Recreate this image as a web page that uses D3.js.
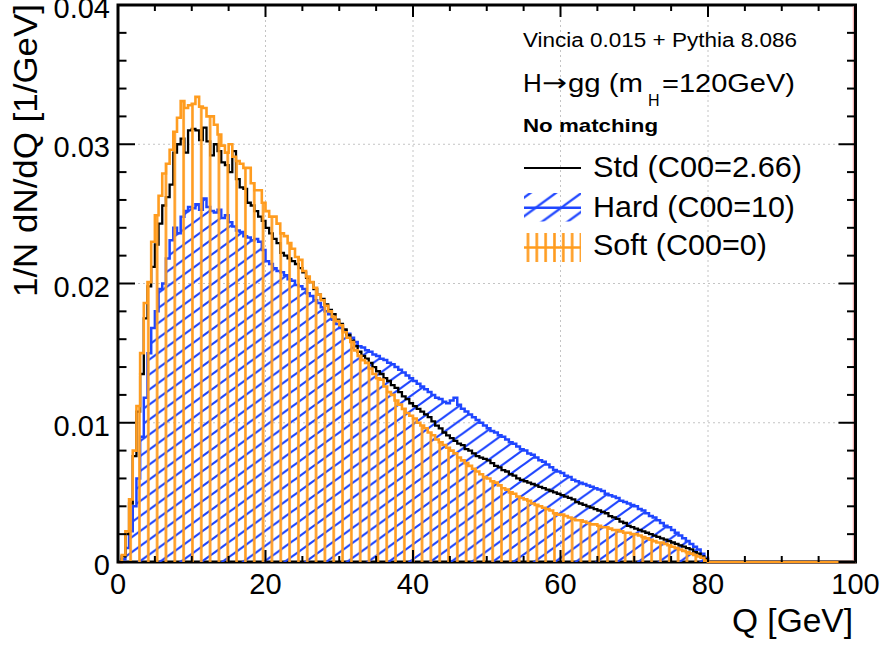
<!DOCTYPE html>
<html><head><meta charset="utf-8">
<script src="https://cdn.jsdelivr.net/npm/d3@7"></script>
<style>
body{margin:0;background:#fff}
svg{display:block}
text{font-family:"Liberation Sans",Arial,Helvetica,sans-serif;fill:#000}
</style>
</head><body>
<svg id="chart" width="884" height="645"></svg>
<script>
// ---------- data ----------
const binWidth = 0.5;               // GeV per bin, bins start at Q = 0
const xDomain = [0, 100];
const yDomain = [0, 0.04];
const xTickValues = [0, 20, 40, 60, 80, 100];
const xTickLabels = ["0", "20", "40", "60", "80", "100"];
const yTickValues = [0, 0.01, 0.02, 0.03, 0.04];
const yTickLabels = ["0", "0.01", "0.02", "0.03", "0.04"];
const xTitle = "Q [GeV]";
const yTitle = "1/N dN/dQ [1/GeV]";
const seriesNames = ["Std (C00=2.66)", "Hard (C00=10)", "Soft (C00=0)"];
const infoLines = ["Vincia 0.015 + Pythia 8.086", "No matching"];
const processParts = ["H", "\u2192", "gg (m", "H", "=120GeV)"];

// Std (C00=2.66) — black outline
const stdValues = [
0.0000,0.0004,0.0020,0.0042,0.0076,0.0108,0.0135,0.0175,0.0198,0.0212,
0.0228,0.0243,0.0256,0.0262,0.0271,0.0294,0.0300,0.0304,0.0294,0.0310,
0.0311,0.0310,0.0303,0.0312,0.0302,0.0292,0.0300,0.0295,0.0287,0.0285,
0.0280,0.0295,0.0275,0.0269,0.0268,0.0258,0.0256,0.0252,0.0248,0.0245,
0.0240,0.0236,0.0232,0.0229,0.0222,0.0220,0.0218,0.0216,0.0214,0.0211,
0.0208,0.0204,0.0201,0.0196,0.0192,0.0189,0.0185,0.0181,0.0178,0.0174,
0.0171,0.0167,0.0163,0.0159,0.0155,0.0151,0.0148,0.0146,0.0143,0.0140,
0.0137,0.0135,0.0132,0.0130,0.0127,0.0125,0.0122,0.0119,0.0117,0.0114,
0.0112,0.0110,0.0108,0.0106,0.0104,0.0101,0.0098,0.0096,0.0093,0.0091,
0.0089,0.0087,0.0085,0.0084,0.0081,0.0080,0.0078,0.0076,0.0075,0.0074,
0.0073,0.0071,0.0069,0.0068,0.0066,0.0065,0.0063,0.0062,0.0060,0.0059,
0.0058,0.0057,0.0056,0.0055,0.0054,0.0053,0.0052,0.0051,0.0050,0.0049,
0.0048,0.0047,0.0046,0.0045,0.0043,0.0042,0.0041,0.0040,0.0039,0.0038,
0.0037,0.0036,0.0035,0.0033,0.0032,0.0031,0.0029,0.0028,0.0026,0.0025,
0.0024,0.0023,0.0022,0.0021,0.0020,0.0019,0.0018,0.0017,0.0016,0.0015,
0.0014,0.0013,0.0012,0.0011,0.0010,0.0009,0.0007,0.0006,0.0004,0.0002];

// Hard (C00=10) — blue outline, diagonal hatch
const hardValues = [
0.0000,0.0002,0.0010,0.0022,0.0040,0.0060,0.0090,0.0118,0.0150,0.0168,
0.0180,0.0196,0.0200,0.0218,0.0231,0.0240,0.0236,0.0248,0.0252,0.0255,
0.0254,0.0257,0.0253,0.0261,0.0255,0.0252,0.0251,0.0253,0.0247,0.0249,
0.0244,0.0241,0.0238,0.0237,0.0234,0.0233,0.0231,0.0232,0.0230,0.0224,
0.0216,0.0214,0.0211,0.0209,0.0208,0.0206,0.0203,0.0202,0.0199,0.0198,
0.0196,0.0193,0.0191,0.0188,0.0186,0.0183,0.0180,0.0178,0.0174,0.0171,
0.0168,0.0166,0.0164,0.0161,0.0158,0.0155,0.0154,0.0152,0.0151,0.0149,
0.0148,0.0146,0.0145,0.0143,0.0142,0.0140,0.0138,0.0136,0.0134,0.0132,
0.0130,0.0128,0.0126,0.0124,0.0122,0.0120,0.0118,0.0117,0.0115,0.0114,
0.0116,0.0118,0.0113,0.0110,0.0108,0.0106,0.0104,0.0102,0.0100,0.0098,
0.0096,0.0094,0.0093,0.0091,0.0090,0.0088,0.0086,0.0085,0.0083,0.0081,
0.0080,0.0078,0.0077,0.0075,0.0073,0.0072,0.0070,0.0068,0.0066,0.0065,
0.0064,0.0062,0.0061,0.0059,0.0058,0.0057,0.0056,0.0055,0.0054,0.0053,
0.0052,0.0051,0.0049,0.0048,0.0047,0.0046,0.0044,0.0043,0.0042,0.0041,
0.0040,0.0038,0.0037,0.0035,0.0033,0.0032,0.0030,0.0028,0.0026,0.0025,
0.0023,0.0021,0.0019,0.0017,0.0015,0.0013,0.0011,0.0009,0.0006,0.0003];

// Soft (C00=0) — orange outline, vertical hatch
const softValues = [
0.0000,0.0005,0.0022,0.0045,0.0080,0.0112,0.0150,0.0186,0.0201,0.0230,
0.0249,0.0263,0.0279,0.0286,0.0296,0.0309,0.0319,0.0331,0.0326,0.0328,
0.0329,0.0334,0.0327,0.0326,0.0320,0.0320,0.0314,0.0307,0.0299,0.0294,
0.0300,0.0291,0.0288,0.0286,0.0283,0.0283,0.0272,0.0267,0.0267,0.0258,
0.0252,0.0248,0.0248,0.0243,0.0236,0.0234,0.0229,0.0225,0.0219,0.0217,
0.0209,0.0205,0.0201,0.0197,0.0192,0.0188,0.0184,0.0180,0.0176,0.0173,
0.0170,0.0165,0.0161,0.0158,0.0152,0.0148,0.0145,0.0143,0.0139,0.0135,
0.0132,0.0131,0.0126,0.0122,0.0120,0.0116,0.0113,0.0110,0.0107,0.0105,
0.0103,0.0100,0.0098,0.0096,0.0093,0.0091,0.0088,0.0086,0.0084,0.0082,
0.0080,0.0078,0.0075,0.0073,0.0071,0.0069,0.0067,0.0065,0.0063,0.0061,
0.0060,0.0058,0.0057,0.0055,0.0053,0.0052,0.0050,0.0049,0.0047,0.0046,
0.0045,0.0044,0.0042,0.0041,0.0040,0.0039,0.0038,0.0037,0.0035,0.0034,
0.0034,0.0033,0.0032,0.0031,0.0030,0.0030,0.0029,0.0028,0.0027,0.0027,
0.0026,0.0025,0.0025,0.0024,0.0023,0.0023,0.0022,0.0021,0.0021,0.0020,
0.0020,0.0019,0.0018,0.0017,0.0016,0.0015,0.0014,0.0014,0.0013,0.0012,
0.0011,0.0010,0.0009,0.0008,0.0007,0.0006,0.0005,0.0004,0.0003,0.0001];

// ---------- style ----------
const BLUE = "#1f46ff", ORANGE = "#ff9c1f", BLACK = "#000";
const frame = {left: 118, right: 855.5, top: 5, bottom: 562};

const svg = d3.select("#chart");
const x = d3.scaleLinear().domain(xDomain).range([frame.left, frame.right]);
const y = d3.scaleLinear().domain(yDomain).range([frame.bottom, frame.top]);

// ---------- patterns ----------
const defs = svg.append("defs");
function diagPattern(id, w, h, color, sw) {
  const p = defs.append("pattern").attr("id", id)
    .attr("patternUnits", "userSpaceOnUse").attr("width", w).attr("height", h)
    .attr("x", 3).attr("y", 0);
  [-1, 0, 1].forEach(n => {
    p.append("line")
      .attr("x1", -w * 0.5).attr("y1", h * 1.5 + n * h)
      .attr("x2", w * 1.5).attr("y2", -h * 0.5 + n * h)
      .attr("stroke", color).attr("stroke-width", sw);
  });
}
diagPattern("hatchBlue", 20.8, 15, BLUE, 2.2);
diagPattern("hatchBlueLeg", 25.5, 18.7, BLUE, 2.2);
const vp = defs.append("pattern").attr("id", "hatchOrange")
  .attr("patternUnits", "userSpaceOnUse").attr("width", 8.83).attr("height", 20)
  .attr("x", 148.3 - 4.415).attr("y", 0);
vp.append("line").attr("x1", 4.415).attr("x2", 4.415).attr("y1", -1).attr("y2", 21)
  .attr("stroke", ORANGE).attr("stroke-width", 2.6);

// ---------- grid ----------
const grid = svg.append("g").attr("stroke", "#c4c4c4").attr("stroke-width", 1)
  .attr("stroke-dasharray", "2,3");
xTickValues.filter(v => v > xDomain[0] && v < xDomain[1]).forEach(v => {
  grid.append("line").attr("x1", x(v)).attr("x2", x(v)).attr("y1", frame.top).attr("y2", frame.bottom);
});
yTickValues.filter(v => v > yDomain[0] && v < yDomain[1]).forEach(v => {
  grid.append("line").attr("y1", y(v)).attr("y2", y(v)).attr("x1", frame.left).attr("x2", frame.right);
});

// ---------- frame (under the histograms) ----------
svg.append("rect").attr("x", frame.left).attr("y", frame.top)
  .attr("width", frame.right - frame.left).attr("height", frame.bottom - frame.top)
  .attr("fill", "none").attr("stroke", "#000").attr("stroke-width", 3);
svg.append("line").attr("x1", frame.right - 2.2).attr("x2", frame.right - 2.2)
  .attr("y1", frame.top + 1.5).attr("y2", frame.bottom - 1.5)
  .attr("stroke", "#f4a0a0").attr("stroke-width", 1);

// ---------- histograms ----------
function stepPoints(vals) {
  const pts = [[xDomain[0], 0]];
  vals.forEach((v, i) => { pts.push([i * binWidth, v], [(i + 1) * binWidth, v]); });
  pts.push([vals.length * binWidth, 0], [xDomain[1], 0]);
  return pts;
}
const line = d3.line().x(d => x(d[0])).y(d => y(d[1]));
const area = d3.area().x(d => x(d[0])).y0(y(0)).y1(d => y(d[1]));

const hard = stepPoints(hardValues), std = stepPoints(stdValues), soft = stepPoints(softValues);
svg.append("path").attr("d", area(hard)).attr("fill", "url(#hatchBlue)");
svg.append("path").attr("d", line(hard)).attr("fill", "none").attr("stroke", BLUE)
  .attr("stroke-width", 2.5).attr("stroke-linejoin", "miter");
svg.append("path").attr("d", line(std)).attr("fill", "none").attr("stroke", BLACK)
  .attr("stroke-width", 2.3);
svg.append("path").attr("d", area(soft)).attr("fill", "url(#hatchOrange)");
svg.append("path").attr("d", line(soft)).attr("fill", "none").attr("stroke", ORANGE)
  .attr("stroke-width", 2.6);

// ---------- ticks ----------
const tk = svg.append("g").attr("stroke", "#000").attr("stroke-width", 2);
const xMinor = x.ticks(20), yMinor = y.ticks(20);
xMinor.forEach(v => {
  const major = xTickValues.includes(v);
  const L = major ? 12 : 6;
  tk.append("line").attr("x1", x(v)).attr("x2", x(v)).attr("y1", frame.bottom).attr("y2", frame.bottom - L);
  tk.append("line").attr("x1", x(v)).attr("x2", x(v)).attr("y1", frame.top).attr("y2", frame.top + L);
});
yMinor.forEach(v => {
  const major = yTickValues.some(t => Math.abs(t - v) < 1e-9);
  const L = major ? 17 : 8.5;
  tk.append("line").attr("y1", y(v)).attr("y2", y(v)).attr("x1", frame.left).attr("x2", frame.left + L);
  tk.append("line").attr("y1", y(v)).attr("y2", y(v)).attr("x1", frame.right).attr("x2", frame.right - L);
});

// ---------- tick labels ----------
xTickValues.forEach((v, i) => {
  svg.append("text").attr("x", x(v)).attr("y", 594).attr("text-anchor", "middle")
    .attr("font-size", 29).text(xTickLabels[i]);
});
yTickValues.forEach((v, i) => {
  svg.append("text").attr("x", 110).attr("y", y(v) + 13).attr("text-anchor", "end")
    .attr("font-size", 29).text(yTickLabels[i]);
});

// ---------- axis titles ----------
svg.append("text").attr("x", 853).attr("y", 632).attr("text-anchor", "end")
  .attr("font-size", 33.5).text(xTitle);
svg.append("text").attr("transform", "translate(37,297) rotate(-90)")
  .attr("x", 0).attr("y", 0).attr("font-size", 33.5)
  .attr("textLength", 293).attr("lengthAdjust", "spacingAndGlyphs").text(yTitle);

// ---------- info text ----------
svg.append("text").attr("x", 523).attr("y", 47).attr("font-size", 19.5)
  .attr("textLength", 274).attr("lengthAdjust", "spacingAndGlyphs").text(infoLines[0]);
svg.append("text").attr("x", 523).attr("y", 92).attr("font-size", 26)
  .text(processParts[0]);
svg.append("text").attr("x", 542).attr("y", 91).attr("font-size", 24)
  .style("font-family", "'DejaVu Sans',sans-serif")
  .attr("textLength", 25).attr("lengthAdjust", "spacingAndGlyphs").text(processParts[1]);
svg.append("text").attr("x", 568).attr("y", 92).attr("font-size", 26)
  .attr("textLength", 75).attr("lengthAdjust", "spacingAndGlyphs").text(processParts[2]);
svg.append("text").attr("x", 648).attr("y", 106).attr("font-size", 16)
  .text(processParts[3]);
svg.append("text").attr("x", 662).attr("y", 92).attr("font-size", 26)
  .attr("textLength", 133).attr("lengthAdjust", "spacingAndGlyphs").text(processParts[4]);
svg.append("text").attr("x", 523).attr("y", 132).attr("font-size", 19)
  .attr("font-weight", "bold")
  .attr("textLength", 135).attr("lengthAdjust", "spacingAndGlyphs").text(infoLines[1]);

// ---------- legend ----------
const legX0 = 524, legX1 = 581, legTextX = 593;
const legRows = [
  {name: seriesNames[0], base: 177, len: 209},
  {name: seriesNames[1], base: 216.5, len: 202},
  {name: seriesNames[2], base: 255, len: 174}
];
// Std: line
svg.append("line").attr("x1", legX0).attr("x2", legX1).attr("y1", 168).attr("y2", 168)
  .attr("stroke", BLACK).attr("stroke-width", 2.2);
// Hard: hatch box + line
svg.append("rect").attr("x", legX0).attr("y", 193).attr("width", legX1 - legX0).attr("height", 28.5)
  .attr("fill", "url(#hatchBlueLeg)");
svg.append("line").attr("x1", legX0).attr("x2", legX1).attr("y1", 207.7).attr("y2", 207.7)
  .attr("stroke", BLUE).attr("stroke-width", 2.5);
// Soft: hatch box + line
svg.append("rect").attr("x", legX0).attr("y", 233).attr("width", legX1 - legX0).attr("height", 29)
  .attr("fill", "url(#hatchOrange)");
svg.append("line").attr("x1", legX0).attr("x2", legX1).attr("y1", 247.5).attr("y2", 247.5)
  .attr("stroke", ORANGE).attr("stroke-width", 2.6);
legRows.forEach(r => {
  svg.append("text").attr("x", legTextX).attr("y", r.base).attr("font-size", 30)
    .attr("textLength", r.len).attr("lengthAdjust", "spacingAndGlyphs").text(r.name);
});
</script>
</body></html>
